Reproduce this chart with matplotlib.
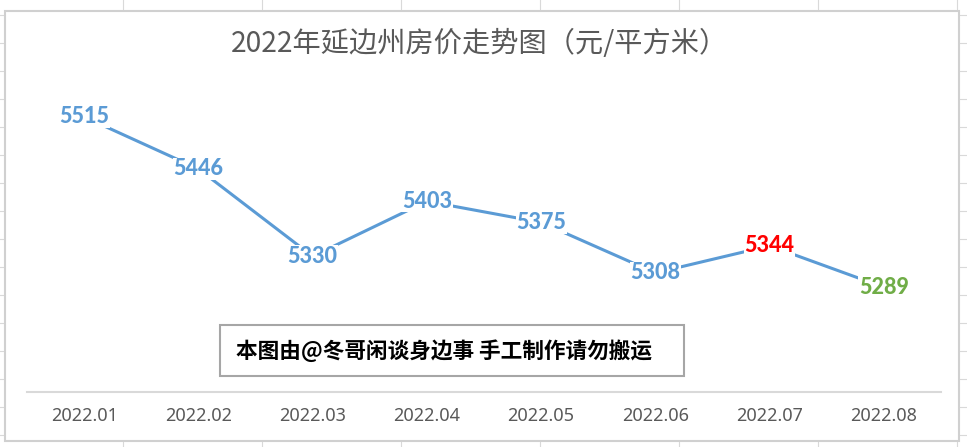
import matplotlib.pyplot as plt
from matplotlib.patches import Rectangle

plt.rcParams['font.family'] = ['Noto Sans CJK SC', 'DejaVu Sans']

months = ['2022.01', '2022.02', '2022.03', '2022.04', '2022.05', '2022.06', '2022.07', '2022.08']
prices = [5515, 5446, 5330, 5403, 5375, 5308, 5344, 5289]
label_colors = ['#5B9BD5'] * 6 + ['#FF0000', '#70AD47']

title = '2022年延边州房价走势图（元/平方米）'
note = '本图由@冬哥闲谈身边事 手工制作请勿搬运'

W, H = 967, 447
fig = plt.figure(figsize=(W / 100, H / 100), dpi=100)

# sheet background in pixel coords
bg = fig.add_axes([0, 0, 1, 1])
bg.set_xlim(0, W)
bg.set_ylim(H, 0)
bg.axis('off')
for y in range(15, H, 28):
    bg.axhline(y, color='#D9D9D9', lw=0.8, zorder=0)
for x in range(123, W, 139):
    bg.axvline(x, color='#D9D9D9', lw=0.8, zorder=0)
bg.add_patch(Rectangle((5, 11), 954, 430, facecolor='white', edgecolor='#D0D0D0', lw=1.5, zorder=1))
bg.text(479, 44, title, ha='center', va='center', fontsize=20.3, color='#595959', zorder=2)
bg.add_patch(Rectangle((220, 325), 464, 51, facecolor='white', edgecolor='#A6A6A6', lw=1.5, zorder=2))
bg.text(236, 351, note, ha='left', va='center', fontsize=15.6, fontweight='bold', color='black', zorder=3)

# plot area
ax = fig.add_axes([27 / W, (H - 392) / H, 914 / W, 301.5 / H])
ax.patch.set_alpha(0)
x = range(len(months))
ax.plot(x, prices, color='#5B9BD5', lw=2.2, zorder=2)
for i, v in enumerate(prices):
    ax.text(i, v, str(v), ha='center', va='center', fontsize=15.5, fontweight=900,
            family=['Lato', 'DejaVu Sans'], color=label_colors[i], zorder=3,
            bbox=dict(facecolor='white', edgecolor='none', pad=0.5))
ax.set_xlim(-0.5, len(months) - 0.5)
ax.set_ylim(5150, 5550)
ax.set_xticks(list(x))
ax.set_xticklabels(months, family=['Noto Sans', 'DejaVu Sans'], fontsize=13, color='#595959')
ax.tick_params(axis='x', length=0, pad=11)
ax.set_yticks([])
for s in ['top', 'left', 'right']:
    ax.spines[s].set_visible(False)
ax.spines['bottom'].set_color('#D9D9D9')
ax.spines['bottom'].set_linewidth(1.5)

fig.savefig('out.png', dpi=100)
